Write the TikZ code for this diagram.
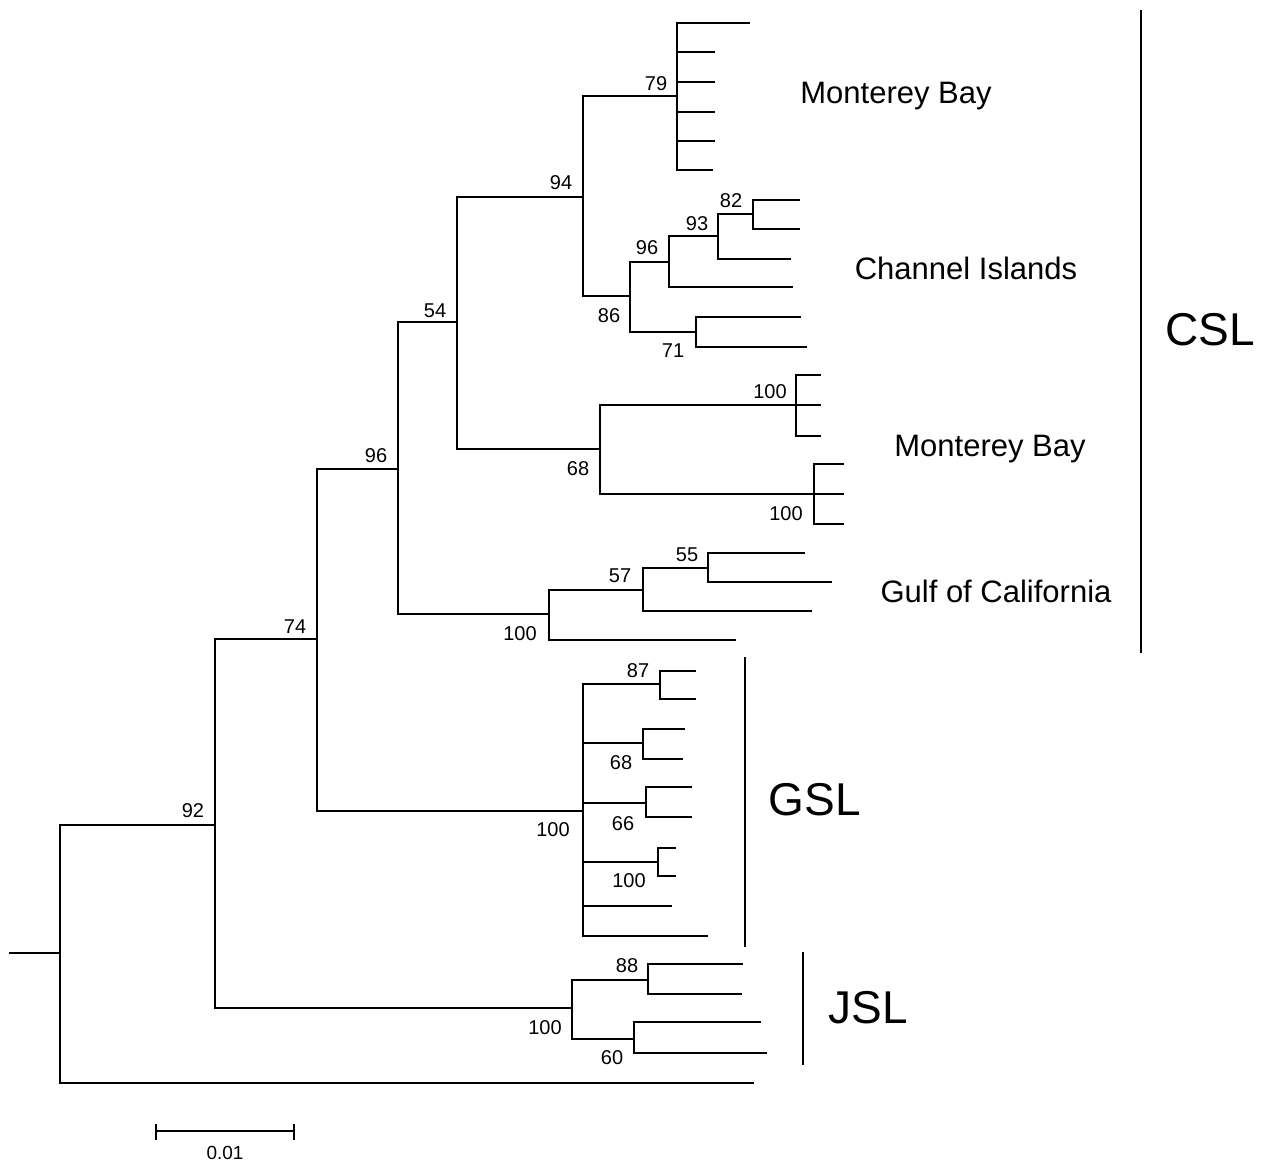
\documentclass[tikz,border=0pt]{standalone}
\usepackage{fontspec}
\setmainfont{Liberation Sans}
\begin{document}
\begin{tikzpicture}[x=1pt,y=-1pt,
  br/.style={line width=1.5pt,line cap=rect},
  bs/.style={font=\fontsize{20}{24}\selectfont,anchor=base,inner sep=0pt},
  grp/.style={font=\fontsize{31}{36}\selectfont,anchor=base,inner sep=0pt},
  clade/.style={font=\fontsize{46}{52}\selectfont,anchor=base,inner sep=0pt}]
\useasboundingbox (0,0) rectangle (1261,1162);
% internal nodes
\coordinate (s0) at (10,953);
\coordinate (root) at (60,953);
\coordinate (n92) at (215,825);
\coordinate (og) at (753,1083);
\coordinate (n74) at (317,639);
\coordinate (jsl) at (572,1008);
\coordinate (n96a) at (398,469);
\coordinate (gsl) at (583,811);
\coordinate (n54) at (457,322);
\coordinate (gulf) at (549,614);
\coordinate (n94) at (583,197);
\coordinate (n68) at (600,449);
\coordinate (n79) at (677,96);
\coordinate (n86) at (630,296);
\coordinate (n96b) at (669,262);
\coordinate (n71) at (696,332);
\coordinate (n93) at (718,236);
\coordinate (n82) at (753,214);
\coordinate (n100u) at (796,405);
\coordinate (n100l) at (814,494);
\coordinate (n57) at (643,590);
\coordinate (n55) at (708,568);
\coordinate (n87) at (660,684);
\coordinate (n68g) at (643,743);
\coordinate (n66) at (646,803);
\coordinate (n100g) at (658,862);
\coordinate (n88) at (648,980);
\coordinate (n60) at (634,1039);
% leaves
\coordinate (a1) at (749,23);
\coordinate (a2) at (714,52);
\coordinate (a3) at (714,82);
\coordinate (a4) at (714,112);
\coordinate (a5) at (714,141);
\coordinate (a6) at (712,170);
\coordinate (b1) at (799,200);
\coordinate (b2) at (799,229);
\coordinate (b3) at (790,259);
\coordinate (b4) at (792,287);
\coordinate (b5) at (800,317);
\coordinate (b6) at (806,347);
\coordinate (c1) at (820,375);
\coordinate (c2) at (820,405);
\coordinate (c3) at (820,436);
\coordinate (c4) at (843,464);
\coordinate (c5) at (843,494);
\coordinate (c6) at (843,524);
\coordinate (d1) at (804,553);
\coordinate (d2) at (831,582);
\coordinate (d3) at (811,611);
\coordinate (d4) at (735,640);
\coordinate (e1) at (695,671);
\coordinate (e2) at (695,699);
\coordinate (e3) at (684,729);
\coordinate (e4) at (682,759);
\coordinate (e5) at (691,787);
\coordinate (e6) at (691,817);
\coordinate (e7) at (675,848);
\coordinate (e8) at (675,876);
\coordinate (e9) at (671,906);
\coordinate (e10) at (707,936);
\coordinate (f1) at (742,964);
\coordinate (f2) at (741,994);
\coordinate (f3) at (760,1022);
\coordinate (f4) at (766,1053);
% branches
\draw[br] (s0) -- (root);
\foreach \p/\c in {root/n92,root/og,n92/n74,n92/jsl,n74/n96a,n74/gsl,
  n96a/n54,n96a/gulf,n54/n94,n54/n68,n94/n79,n94/n86,
  n79/a1,n79/a2,n79/a3,n79/a4,n79/a5,n79/a6,
  n86/n96b,n86/n71,n96b/n93,n96b/b4,n93/n82,n93/b3,n82/b1,n82/b2,n71/b5,n71/b6,
  n68/n100u,n68/n100l,n100u/c1,n100u/c2,n100u/c3,n100l/c4,n100l/c5,n100l/c6,
  gulf/n57,gulf/d4,n57/n55,n57/d3,n55/d1,n55/d2,
  gsl/n87,gsl/n68g,gsl/n66,gsl/n100g,gsl/e9,gsl/e10,
  n87/e1,n87/e2,n68g/e3,n68g/e4,n66/e5,n66/e6,n100g/e7,n100g/e8,
  jsl/n88,jsl/n60,n88/f1,n88/f2,n60/f3,n60/f4}
  \draw[br] (\p) |- (\c);
% bootstrap values
\node[bs] (t79) at (656,90) {79};
\node[bs] (t94) at (561,189) {94};
\node[bs] (t82) at (731,207) {82};
\node[bs] (t93) at (697,230) {93};
\node[bs] (t96b) at (647,254) {96};
\node[bs] (t86) at (609,322) {86};
\node[bs] (t71) at (673,357) {71};
\node[bs] (t54) at (435,317) {54};
\node[bs] (t96a) at (376,462) {96};
\node[bs] (t68) at (578,475) {68};
\node[bs] (t100u) at (770,398) {100};
\node[bs] (t100l) at (786,520) {100};
\node[bs] (t100gc) at (520,640) {100};
\node[bs] (t57) at (620,582) {57};
\node[bs] (t55) at (687,561) {55};
\node[bs] (t74) at (295,633) {74};
\node[bs] (t92) at (193,817) {92};
\node[bs] (t87) at (638,677) {87};
\node[bs] (t68g) at (621,769) {68};
\node[bs] (t66) at (623,830) {66};
\node[bs] (t100gs) at (629,887) {100};
\node[bs] (t100g) at (553,836) {100};
\node[bs] (t88) at (627,972) {88};
\node[bs] (t60) at (612,1064) {60};
\node[bs] (t100j) at (545,1034) {100};
% group labels
\node[grp] (mb1) at (896,103) {Monterey Bay};
\node[grp] (ci) at (966,279) {Channel Islands};
\node[grp] (mb2) at (990,456) {Monterey Bay};
\node[grp] (gc) at (996,602) {Gulf of California};
\node[clade] (csl) at (1210,345) {CSL};
\node[clade] (gsll) at (815,815) {GSL};
\node[clade] (jsll) at (868,1023) {JSL};
% clade bars
\coordinate (cslt) at (1141,10);
\coordinate (cslb) at (1141,653);
\coordinate (gslt) at (745,657);
\coordinate (gslb) at (745,947);
\coordinate (jslt) at (803,952);
\coordinate (jslb) at (803,1065);
\draw[br,line cap=butt] (cslt) -- (cslb);
\draw[br,line cap=butt] (gslt) -- (gslb);
\draw[br,line cap=butt] (jslt) -- (jslb);
% scale bar
\coordinate (sb1) at (156,1131);
\coordinate (sb2) at (294,1131);
\draw[br,line cap=butt] (sb1) -- (sb2);
\draw[br,line cap=butt] ([yshift=-9pt]sb1) -- ([yshift=7pt]sb1);
\draw[br,line cap=butt] ([yshift=-9pt]sb2) -- ([yshift=7pt]sb2);
\node[bs,font=\fontsize{19}{23}\selectfont] (sbl) at (225,1159) {0.01};
\end{tikzpicture}
\end{document}
